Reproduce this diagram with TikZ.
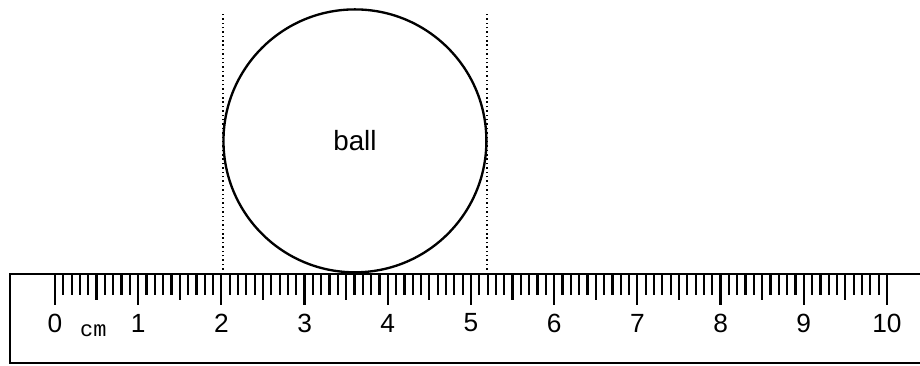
\documentclass[tikz,border=0pt]{standalone}
\usepackage{fontspec}
\setmainfont{Liberation Sans}
\newfontfamily\cmfont{Liberation Mono}
\usepackage{tikz}

\begin{document}
\begin{tikzpicture}[x=1cm,y=1cm,line width=0.6pt]
\useasboundingbox (-0.661,-1.094) rectangle (10.397,3.293);
% ruler body, open on the right
\draw (10.397,0) -- (-0.54,0) -- (-0.54,-1.07) -- (10.397,-1.07);
\foreach \m in {0,...,100} {
  \pgfmathsetmacro{\len}{ifthenelse(mod(\m,10)==0,0.37,ifthenelse(mod(\m,5)==0,0.31,0.25))}
  \draw[line width=0.75pt] (\m/10,0) -- (\m/10,-\len);
}
\foreach \x in {0,...,10} \node[font=\fontsize{9}{11}\selectfont] (n\x) at (\x,-0.59) {\x};
\node[font=\cmfont\fontsize{7.5}{9}\selectfont] (unit) at (0.46,-0.68) {cm};
% ball and its guide lines
\node[draw,circle,line width=0.8pt,minimum size=3.16cm,inner sep=0pt,font=\fontsize{9.5}{11}\selectfont] (ball) at (3.605,1.6) {ball};
\coordinate (l0) at (2.02,0);    \coordinate (l1) at (2.02,3.15);
\coordinate (r0) at (5.19,0);    \coordinate (r1) at (5.19,3.15);
\draw[densely dotted,line width=0.5pt] (l0) -- (l1);
\draw[densely dotted,line width=0.5pt] (r0) -- (r1);
\end{tikzpicture}
\end{document}
